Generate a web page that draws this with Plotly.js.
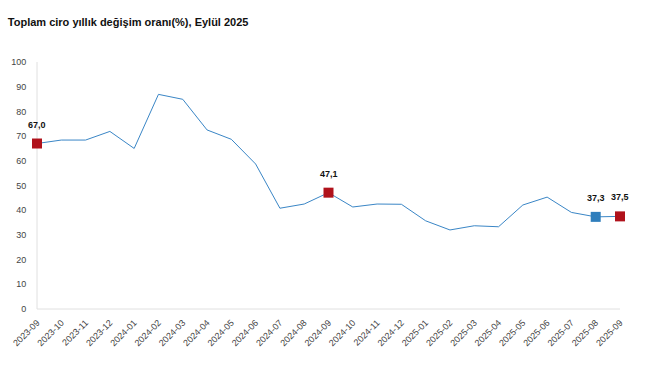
<!DOCTYPE html>
<html>
<head>
<meta charset="utf-8">
<script src="https://cdn.plot.ly/plotly-3.0.1.min.js"></script>
<style>html,body{margin:0;padding:0;background:#fff;}#chart{width:651px;height:369px;}</style>
</head>
<body>
<div id="chart"></div>
<script>
const months = ["2023-09","2023-10","2023-11","2023-12","2024-01","2024-02","2024-03","2024-04","2024-05","2024-06","2024-07","2024-08","2024-09","2024-10","2024-11","2024-12","2025-01","2025-02","2025-03","2025-04","2025-05","2025-06","2025-07","2025-08","2025-09"];
const values = [67.0,68.4,68.4,71.9,65.0,86.9,84.9,72.5,68.7,58.7,40.8,42.5,47.1,41.3,42.5,42.4,35.7,32.0,33.7,33.3,42.1,45.3,39.1,37.3,37.5];
const redMonths = ["2023-09","2024-09","2025-09"];
const blueMonths = ["2025-08"];
const titleText = "Toplam ciro yıllık değişim oranı(%), Eylül 2025";

const pick = ms => ms.map(m => values[months.indexOf(m)]);
const fmt = v => v.toFixed(1).replace('.', ',');

const traces = [
  {x: months, y: values, type: 'scatter', mode: 'lines', line: {color: '#3a86c6', width: 1}, hoverinfo: 'skip', cliponaxis: false},
  {x: redMonths, y: pick(redMonths), type: 'scatter', mode: 'markers', marker: {symbol: 'square', size: 10, color: '#b0121b'}, cliponaxis: false},
  {x: blueMonths, y: pick(blueMonths), type: 'scatter', mode: 'markers', marker: {symbol: 'square', size: 10, color: '#2f7ebc'}, cliponaxis: false}
];

const labelMonths = redMonths.concat(blueMonths);
const annotations = labelMonths.map(m => ({
  x: m, y: values[months.indexOf(m)], xref: 'x', yref: 'y', text: '<b>' + fmt(values[months.indexOf(m)]) + '</b>',
  showarrow: false, yshift: 19, font: {family: 'Liberation Sans, Arial, sans-serif', size: 9, color: '#111'}
}));

const layout = {
  width: 651, height: 369,
  margin: {l: 37, r: 31, t: 62, b: 60},
  showlegend: false,
  paper_bgcolor: '#fff', plot_bgcolor: '#fff',
  font: {family: 'Liberation Sans, Arial, sans-serif', size: 9, color: '#444'},
  title: {text: '<b>' + titleText + '</b>', x: 0.012, xanchor: 'left', y: 0.94, yanchor: 'middle', font: {size: 11, color: '#111', family: 'Liberation Sans, Arial, sans-serif'}},
  xaxis: {type: 'category', categoryorder: 'array', categoryarray: months, range: [0, 24], showgrid: false, zeroline: false,
    showline: false, tickangle: -45, ticks: 'outside', ticklen: 4, tickcolor: 'rgba(0,0,0,0)',
    tickfont: {size: 9, color: '#444'}},
  yaxis: {range: [0, 100], dtick: 10, showgrid: false, zeroline: false, showline: false,
    ticks: 'outside', ticklen: 8, tickcolor: 'rgba(0,0,0,0)', tickfont: {size: 9, color: '#444'}},
  shapes: [
    {type: 'line', xref: 'paper', yref: 'paper', x0: 0, x1: 0, y0: 0, y1: 1, layer: 'below', line: {color: '#e0e0e0', width: 1}},
    {type: 'line', xref: 'paper', yref: 'paper', x0: 0, x1: 1, y0: 0, y1: 0, layer: 'below', line: {color: '#e0e0e0', width: 1}}
  ],
  annotations: annotations
};

Plotly.newPlot('chart', traces, layout, {displayModeBar: false, staticPlot: true});
</script>
</body>
</html>
